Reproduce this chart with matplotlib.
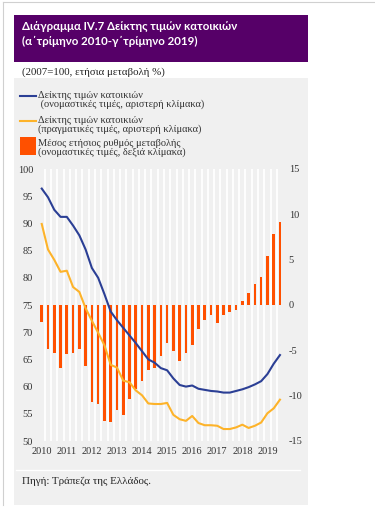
import matplotlib
matplotlib.use('Agg')
import matplotlib.pyplot as plt
from matplotlib.lines import Line2D
from matplotlib.patches import Rectangle

plt.rcParams['axes.unicode_minus'] = False

# Τριμηνιαία δεδομένα: α' τρίμηνο 2010 - γ' τρίμηνο 2019
years = ['2010', '2011', '2012', '2013', '2014', '2015', '2016', '2017', '2018', '2019']

nominal_index = [96.4, 94.8, 92.5, 91.2, 91.2, 89.6, 87.8, 85.2, 81.8, 80.0,
                 77.0, 73.8, 72.2, 70.8, 69.4, 68.0, 66.5, 65.0, 64.4, 63.4,
                 63.0, 61.5, 60.3, 60.0, 60.2, 59.6, 59.4, 59.2, 59.1, 58.9,
                 58.9, 59.2, 59.5, 59.9, 60.4, 61.0, 62.3, 64.2, 65.8]

real_index = [89.9, 85.2, 83.3, 81.1, 81.3, 78.3, 77.4, 74.4, 72.1, 69.9,
              67.6, 64.0, 63.5, 61.1, 60.8, 59.3, 58.4, 56.9, 56.8, 56.8,
              57.0, 54.8, 54.0, 53.7, 54.6, 53.3, 52.9, 52.9, 52.8, 52.2,
              52.2, 52.5, 53.0, 52.4, 52.8, 53.4, 55.1, 56.0, 57.6]

annual_change = [-1.9, -4.8, -5.3, -7.0, -5.4, -5.3, -4.9, -6.7, -10.7, -10.9,
                 -12.8, -12.9, -11.6, -12.1, -10.4, -9.3, -8.4, -7.2, -6.9, -5.6,
                 -4.2, -5.1, -6.2, -5.3, -4.4, -2.6, -1.6, -1.1, -2.0, -1.1,
                 -0.8, -0.5, 0.4, 1.3, 2.3, 3.1, 5.4, 7.8, 9.2]

blue = '#2b3f95'
yellow = '#fdb32a'
orange = '#ff5000'
purple = '#560068'
panel = '#f0f0f0'
serif = 'Liberation Serif'

W, H = 375, 515
fig = plt.figure(figsize=(W / 100, H / 100), dpi=100)
fig.patch.set_facecolor('white')


def fx(px):
    return px / W


def fy(py):
    return 1 - py / H


# πλαίσιο σελίδας
fig.add_artist(Line2D([fx(3), fx(3)], [fy(2), fy(505)], color='#d0d0d0', lw=0.8))
fig.add_artist(Line2D([fx(3), fx(375)], [fy(2), fy(2)], color='#d0d0d0', lw=0.8))

# τίτλος
fig.add_artist(Rectangle((fx(14), fy(62)), fx(294), 47 / H, color=purple, lw=0))
fig.text(fx(22), fy(26), 'Διάγραμμα IV.7 Δείκτης τιμών κατοικιών',
         color='white', fontsize=8.3, fontweight='bold', va='center', family='Lato')
fig.text(fx(22), fy(41), '(α΄τρίμηνο 2010-γ΄τρίμηνο 2019)',
         color='white', fontsize=8.3, fontweight='bold', va='center', family='Lato')
fig.text(fx(22), fy(72), '(2007=100, ετήσια μεταβολή %)', fontsize=7.8,
         va='center', family=serif, color='#222222')

# γκρι φόντο
fig.add_artist(Rectangle((fx(14), fy(505)), fx(294), 427 / H, color=panel, lw=0, zorder=-5))

# υπόμνημα
leg_color = '#333333'
fs = 7.5
fig.add_artist(Line2D([fx(20), fx(36)], [fy(96), fy(96)], color=blue, lw=1.5))
fig.text(fx(38), fy(91), 'Δείκτης τιμών κατοικιών\n (ονομαστικές τιμές, αριστερή κλίμακα)',
         fontsize=fs, family=serif, va='top', color=leg_color, linespacing=0.85)
fig.add_artist(Line2D([fx(20), fx(36)], [fy(121), fy(121)], color=yellow, lw=1.5))
fig.text(fx(38), fy(116), 'Δείκτης τιμών κατοικιών\n(πραγματικές τιμές, αριστερή κλίμακα)',
         fontsize=fs, family=serif, va='top', color=leg_color, linespacing=0.85)
fig.add_artist(Rectangle((fx(20), fy(155)), fx(16), 18 / H, color=orange, lw=0))
fig.text(fx(38), fy(139), 'Μέσος ετήσιος ρυθμός μεταβολής\n(ονομαστικές τιμές, δεξιά κλίμακα)',
         fontsize=fs, family=serif, va='top', color=leg_color, linespacing=0.85)

# άξονες
ax = fig.add_axes([fx(38.6), fy(441), fx(244.5), 272 / H])
ax.set_facecolor(panel)
x = list(range(len(annual_change)))
ax.bar(x, annual_change, width=0.42, color=orange, zorder=2)
ax.set_ylim(-15, 15)
ax.set_yticks([-15, -10, -5, 0, 5, 10, 15])
ax.set_xlim(-0.5, len(x) - 0.5)
ax.set_xticks(range(0, len(x), 4))
ax.set_xticklabels(years)
for b in range(len(x) - 1):
    ax.axvline(b + 0.5, color='white', lw=1.3, zorder=1)

ax2 = ax.twinx()
ax2.plot(x, nominal_index, color=blue, lw=1.5, zorder=3)
ax2.plot(x, real_index, color=yellow, lw=1.5, zorder=3)
ax2.set_ylim(50, 100)
ax2.set_yticks(range(50, 101, 5))
ax2.yaxis.tick_left()
ax.yaxis.tick_right()

for a in (ax, ax2):
    for s in a.spines.values():
        s.set_visible(False)
    a.tick_params(length=0, labelsize=7.5, colors='#333333')
    for lab in a.get_xticklabels() + a.get_yticklabels():
        lab.set_family(serif)
ax.tick_params(axis='y', pad=4)
ax.tick_params(axis='x', pad=4)
ax2.tick_params(axis='y', pad=4)

# πηγή
fig.add_artist(Line2D([fx(16), fx(300)], [fy(470), fy(470)], color='white', lw=1))
fig.text(fx(22), fy(481), 'Πηγή: Τράπεζα της Ελλάδος.', fontsize=7.9, family=serif,
         va='center', color='#222222')

fig.savefig('out.png', dpi=100)
